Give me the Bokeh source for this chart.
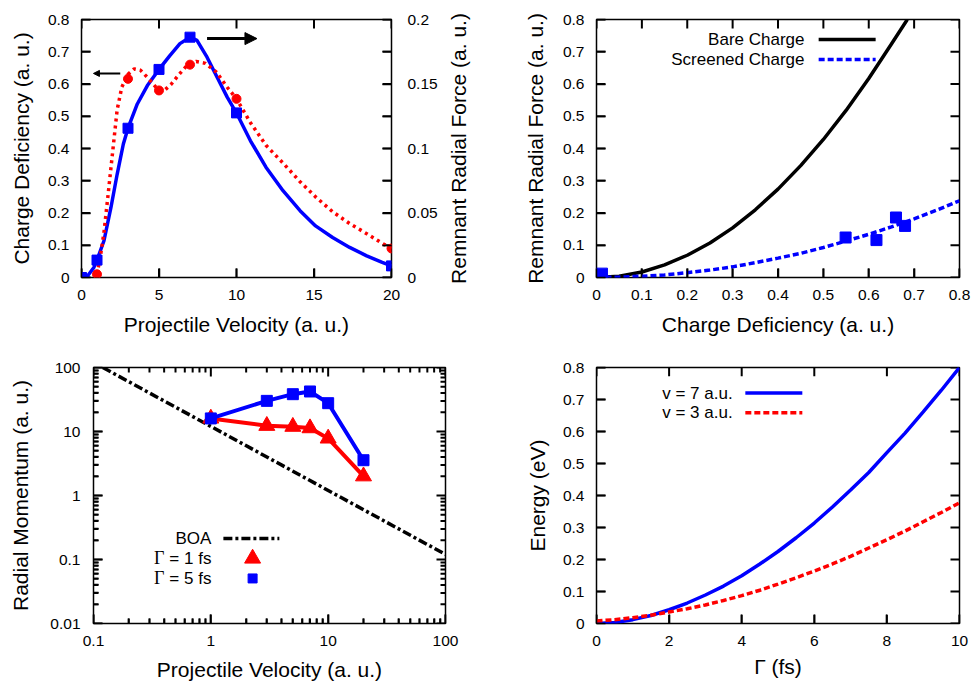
import math
from bokeh.plotting import figure
from bokeh.layouts import column, row
from bokeh.models import (LinearAxis, Range1d, FixedTicker, CustomJSTickFormatter,
                          Arrow, NormalHead, Label)
from bokeh.embed import file_html
from bokeh.resources import INLINE

# ---------------- data ----------------
# Panel 1: charge deficiency (left axis) and remnant radial force (right axis) vs velocity
vel_cd = [1, 3, 5, 7, 10, 20]
charge_def = [0.010, 0.616, 0.580, 0.660, 0.554, 0.090]
vel_rf = [0, 1, 3, 5, 7, 10, 20]
radial_force = [0.0, 0.0135, 0.1157, 0.1613, 0.1863, 0.1276, 0.009]
cd_curve_v = [1.0, 1.2, 1.45, 1.7, 1.9, 2.1, 2.3, 2.6, 3.0, 3.4, 3.8, 4.3, 4.8, 5.3, 5.8, 6.3,
              6.8, 7.4, 8.0, 8.7, 9.4, 10.0, 10.9, 11.9, 13.0, 14.1, 15.1, 16.2, 17.3, 18.4, 19.4, 20.0]
cd_curve = [0.01, 0.06, 0.14, 0.25, 0.34, 0.43, 0.52, 0.59, 0.63, 0.647, 0.643, 0.618, 0.59, 0.578,
            0.60, 0.63, 0.657, 0.67, 0.664, 0.637, 0.59, 0.554, 0.48, 0.41, 0.355, 0.297, 0.25,
            0.204, 0.167, 0.136, 0.106, 0.09]
rf_curve_v = [0, 0.4, 0.8, 1.0, 1.45, 1.9, 2.3, 2.7, 3.0, 3.6, 4.25, 5.0, 5.7, 6.35, 7.0, 7.45,
              8.1, 8.75, 9.4, 10.0, 10.9, 11.9, 13.0, 14.1, 15.1, 16.2, 17.3, 18.4, 19.4, 20.0]
rf_curve = [0, 0.0013, 0.0078, 0.0135, 0.0285, 0.0543, 0.08, 0.1035, 0.1157, 0.1345, 0.1488,
            0.1613, 0.172, 0.1813, 0.1863, 0.1838, 0.1708, 0.1553, 0.1398, 0.1275, 0.106, 0.0855,
            0.0673, 0.0518, 0.04, 0.031, 0.0233, 0.0168, 0.0118, 0.009]

# Panel 2: remnant radial force vs charge deficiency
cd_pts = [0.0, 0.012, 0.549, 0.617, 0.660, 0.680]
rf_pts = [0.002, 0.012, 0.124, 0.116, 0.186, 0.160]
bare_x = [0, 0.05, 0.1, 0.15, 0.2, 0.25, 0.3, 0.35, 0.4, 0.45, 0.5, 0.55, 0.6, 0.65, 0.685]
bare_y = [0, 0.004, 0.017, 0.039, 0.069, 0.107, 0.154, 0.21, 0.274, 0.347, 0.428, 0.518, 0.617, 0.724, 0.8]
scr_x = [0, 0.05, 0.1, 0.15, 0.2, 0.25, 0.3, 0.35, 0.4, 0.45, 0.5, 0.55, 0.6, 0.65, 0.7, 0.75, 0.8]
scr_y = [0, 0.001, 0.004, 0.008, 0.015, 0.023, 0.033, 0.046, 0.06, 0.075, 0.093, 0.113, 0.134,
         0.157, 0.182, 0.209, 0.238]

# Panel 3: radial momentum vs velocity (log-log)
vel_g = [1, 3, 5, 7, 10, 20]
mom_g1 = [16.0, 12.3, 11.9, 11.3, 7.8, 2.0]
mom_g5 = [16.0, 30.1, 38.3, 42.2, 27.7, 3.56]
boa_v = [0.12, 100]
boa_p = [100, 0.12]

# Panel 4: energy vs Gamma
gamma = [0, 0.5, 1, 1.5, 2, 2.5, 3, 3.5, 4, 4.5, 5, 5.5, 6, 6.5, 7, 7.5, 8, 8.5, 9, 9.5, 10]
energy_v7 = [0, 0.003, 0.012, 0.025, 0.043, 0.064, 0.089, 0.117, 0.149, 0.186, 0.225, 0.268,
             0.314, 0.364, 0.417, 0.472, 0.534, 0.595, 0.661, 0.729, 0.8]
energy_v3 = [0.008, 0.012, 0.018, 0.026, 0.036, 0.046, 0.058, 0.072, 0.087, 0.104, 0.123, 0.143,
             0.164, 0.186, 0.21, 0.236, 0.262, 0.289, 0.318, 0.347, 0.377]

# tick values
ticks_v = [0, 5, 10, 15, 20]
ticks_08 = [0, 0.1, 0.2, 0.3, 0.4, 0.5, 0.6, 0.7, 0.8]
ticks_rf = [0, 0.05, 0.1, 0.15, 0.2]
minor_rf = [0.025, 0.075, 0.125, 0.175]
ticks_logx = [0.1, 1, 10, 100]
ticks_logy = [0.01, 0.1, 1, 10, 100]
ticks_g = [0, 2, 4, 6, 8, 10]

# ---------------- style ----------------
FONT = "Liberation Sans"
SERIF = "Liberation Serif"
TICK_FS = "15.5px"
LABEL_FS = "21px"
LEG_FS = "17px"
RED = "#ff0000"
BLUE = "#0000ff"
TLEN = 9
TW = 2.0

FMT = "return String(Number(tick.toFixed(6)));"


def log_minors(lo_exp, hi_exp):
    return [m * 10.0 ** e for e in range(lo_exp, hi_exp) for m in range(2, 10)]


def style_axis(ax, ticks, label, standoff, label_standoff, minor=None, mlen=TLEN):
    ax.ticker = FixedTicker(ticks=ticks, minor_ticks=minor or [])
    ax.formatter = CustomJSTickFormatter(code=FMT)
    ax.major_tick_in = TLEN
    ax.major_tick_out = 0
    ax.minor_tick_in = mlen
    ax.minor_tick_out = 0
    ax.major_tick_line_color = "black"
    ax.minor_tick_line_color = "black"
    ax.major_tick_line_width = 1.5
    ax.minor_tick_line_width = 1.5
    ax.axis_line_color = None
    ax.major_label_text_font = FONT
    ax.major_label_text_font_size = TICK_FS
    ax.major_label_text_color = "black"
    ax.major_label_standoff = standoff
    if label:
        ax.axis_label = label
        ax.axis_label_text_font = FONT
        ax.axis_label_text_font_size = LABEL_FS
        ax.axis_label_text_font_style = "normal"
        ax.axis_label_text_color = "black"
        ax.axis_label_standoff = label_standoff


def frame_size(p):
    return (p.width - p.min_border_left - p.min_border_right,
            p.height - p.min_border_top - p.min_border_bottom)


def shift(v, d, log):
    return 10 ** (math.log10(v) + d) if log else v + d


def span(r, log):
    return (math.log10(r.end) - math.log10(r.start)) if log else (r.end - r.start)


def tick_marks(p, vals, side, length, xlog=False, ylog=False, rng=None, width=TW, **kw):
    """Inward tick marks drawn as thin filled bars starting at the frame edge."""
    fw, fh = frame_size(p)
    xr = p.x_range
    yr = rng or p.y_range
    if side in ("below", "above"):
        dlen = length / fh * span(yr, ylog)
        dw = 0.5 * width / fw * span(xr, xlog)
        edge = yr.start if side == "below" else yr.end
        inner = shift(edge, dlen if side == "below" else -dlen, ylog)
        p.quad(left=[shift(v, -dw, xlog) for v in vals], right=[shift(v, dw, xlog) for v in vals],
               bottom=[min(edge, inner)] * len(vals), top=[max(edge, inner)] * len(vals),
               fill_color="black", line_color=None, **kw)
    else:
        dlen = length / fw * span(xr, xlog)
        dw = 0.5 * width / fh * span(yr, ylog)
        edge = xr.start if side == "left" else xr.end
        inner = shift(edge, dlen if side == "left" else -dlen, xlog)
        p.quad(left=[min(edge, inner)] * len(vals), right=[max(edge, inner)] * len(vals),
               bottom=[shift(v, -dw, ylog) for v in vals], top=[shift(v, dw, ylog) for v in vals],
               fill_color="black", line_color=None, **kw)


def base(p):
    p.grid.visible = False
    p.outline_line_color = "black"
    p.outline_line_width = 1.5
    p.outline_line_alpha = 1.0
    p.background_fill_color = "white"
    p.border_fill_color = "white"


def lin(frac, lo, hi):
    return lo + frac * (hi - lo)


def logf(frac, lo, hi):
    return 10 ** (math.log10(lo) + frac * (math.log10(hi) - math.log10(lo)))


# ---------------- panel 1 ----------------
p1 = figure(width=440, height=340, x_range=(0, 20), y_range=(0, 0.8),
            output_backend="svg", toolbar_location=None,
            min_border_left=81, min_border_right=48, min_border_top=19, min_border_bottom=63)
base(p1)
p1.extra_y_ranges = {"force": Range1d(0, 0.2)}
style_axis(p1.xaxis[0], ticks_v, "Projectile Velocity (a. u.)", 12, 10)
style_axis(p1.yaxis[0], ticks_08, "Charge Deficiency (a. u.)", 12, 12)
rax = LinearAxis(y_range_name="force")
style_axis(rax, ticks_rf, None, 16, 0, minor=minor_rf)
p1.add_layout(rax, "right")
tick_marks(p1, ticks_v, "below", TLEN)
tick_marks(p1, ticks_v, "above", TLEN)
tick_marks(p1, ticks_08, "left", TLEN)
tick_marks(p1, ticks_rf + minor_rf, "right", TLEN, rng=p1.extra_y_ranges["force"],
           y_range_name="force")

p1.line(rf_curve_v, rf_curve, y_range_name="force", line_color=BLUE, line_width=3.5)
p1.line(cd_curve_v, cd_curve, line_color=RED, line_width=3.5, line_dash="3 4")
p1.scatter(vel_cd, charge_def, marker="circle", size=9, fill_color=RED, line_color=RED)
p1.scatter(vel_rf, radial_force, y_range_name="force", marker="square", size=10,
           fill_color=BLUE, line_color=BLUE)
p1.add_layout(Arrow(end=NormalHead(size=6, fill_color="black", line_color="black"),
                    x_start=lin(0.125, 0, 20), y_start=lin(0.791, 0, 0.8),
                    x_end=lin(0.0386, 0, 20), y_end=lin(0.791, 0, 0.8),
                    line_width=2, line_color="black"))
p1.add_layout(Arrow(end=NormalHead(size=12, fill_color="black", line_color="black"),
                    x_start=lin(0.405, 0, 20), y_start=lin(0.926, 0, 0.8),
                    x_end=lin(0.566, 0, 20), y_end=lin(0.926, 0, 0.8),
                    line_width=3, line_color="black"))

# right-hand axis title of panel 1 (reads bottom-to-top, like a left axis title)
p1r = figure(width=47, height=340, x_range=(0, 1), y_range=(0, 1),
             output_backend="svg", toolbar_location=None, x_axis_location=None,
             min_border_left=29, min_border_right=0, min_border_top=19, min_border_bottom=63)
p1r.grid.visible = False
p1r.outline_line_color = None
p1r.border_fill_color = "white"
p1r.background_fill_color = "white"
ya = p1r.yaxis[0]
ya.ticker = FixedTicker(ticks=[])
ya.major_tick_line_color = None
ya.minor_tick_line_color = None
ya.axis_line_color = None
ya.major_label_text_font_size = "0px"
ya.major_label_standoff = 0
ya.major_tick_out = 0
ya.major_tick_in = 0
ya.axis_label = "Remnant Radial Force (a. u.)"
ya.axis_label_text_font = FONT
ya.axis_label_text_font_size = LABEL_FS
ya.axis_label_text_font_style = "normal"
ya.axis_label_text_color = "black"
ya.axis_label_standoff = 0

# ---------------- panel 2 ----------------
p2 = figure(width=485, height=340, x_range=(0, 0.8), y_range=(0, 0.8),
            output_backend="svg", toolbar_location=None,
            min_border_left=109, min_border_right=13, min_border_top=19, min_border_bottom=63)
base(p2)
style_axis(p2.xaxis[0], ticks_08, "Charge Deficiency (a. u.)", 12, 10)
style_axis(p2.yaxis[0], ticks_08, "Remnant Radial Force (a. u.)", 12, 13)
for side in ("below", "above", "left", "right"):
    tick_marks(p2, ticks_08, side, TLEN)
p2.line(bare_x, bare_y, line_color="black", line_width=3.5)
p2.line(scr_x, scr_y, line_color=BLUE, line_width=3.5, line_dash="6 3")
p2.scatter(cd_pts, rf_pts, marker="square", size=11, fill_color=BLUE, line_color=BLUE)
for i, (name, col, dash) in enumerate([("Bare Charge", "black", "solid"),
                                        ("Screened Charge", BLUE, "6 3")]):
    yy = lin([0.922, 0.845][i], 0, 0.8)
    p2.add_layout(Label(x=lin(0.573, 0, 0.8), y=yy, text=name, text_font=FONT,
                        text_font_size=LEG_FS, text_align="right", text_baseline="middle",
                        text_color="black"))
    p2.add_layout(Arrow(start=None, end=None, x_start=lin(0.612, 0, 0.8), y_start=yy,
                        x_end=lin(0.769, 0, 0.8), y_end=yy, line_color=col, line_width=3.5,
                        line_dash=dash))

# ---------------- panel 3 ----------------
p3 = figure(width=487, height=346, x_axis_type="log", y_axis_type="log",
            x_range=(0.1, 100), y_range=(0.01, 100),
            output_backend="svg", toolbar_location=None,
            min_border_left=93, min_border_right=42, min_border_top=27, min_border_bottom=63)
base(p3)
style_axis(p3.xaxis[0], ticks_logx, "Projectile Velocity (a. u.)", 12, 9,
           minor=log_minors(-1, 2), mlen=5)
style_axis(p3.yaxis[0], ticks_logy, "Radial Momentum (a. u.)", 13, 15,
           minor=log_minors(-2, 2), mlen=5)
for side in ("below", "above"):
    tick_marks(p3, ticks_logx, side, TLEN, xlog=True, ylog=True)
    tick_marks(p3, log_minors(-1, 2), side, 5, xlog=True, ylog=True)
for side in ("left", "right"):
    tick_marks(p3, ticks_logy, side, TLEN, xlog=True, ylog=True)
    tick_marks(p3, log_minors(-2, 2), side, 5, xlog=True, ylog=True)
p3.line(boa_v, boa_p, line_color="black", line_width=3.5, line_dash="9 3 3 3")
p3.line(vel_g, mom_g1, line_color=RED, line_width=4)
p3.scatter(vel_g, mom_g1, marker="triangle", size=16, fill_color=RED, line_color=RED)
p3.line(vel_g, mom_g5, line_color=BLUE, line_width=4)
p3.scatter(vel_g, mom_g5, marker="square", size=11, fill_color=BLUE, line_color=BLUE)

lx = (0.1, 100)
ly = (0.01, 100)
rows3 = [logf(f, *ly) for f in (0.332, 0.254, 0.176)]
p3.add_layout(Label(x=logf(0.335, *lx), y=rows3[0], text="BOA", text_font=FONT,
                    text_font_size=LEG_FS, text_align="right", text_baseline="middle",
                    text_color="black"))
p3.add_layout(Arrow(start=None, end=None, x_start=logf(0.369, *lx), y_start=rows3[0],
                    x_end=logf(0.528, *lx), y_end=rows3[0], line_color="black", line_width=3.5,
                    line_dash="9 3 3 3"))
for yy, txt in ((rows3[1], "= 1 fs"), (rows3[2], "= 5 fs")):
    p3.add_layout(Label(x=logf(0.335, *lx), y=yy, text=txt, text_font=FONT,
                        text_font_size=LEG_FS, text_align="right", text_baseline="middle",
                        text_color="black"))
    p3.add_layout(Label(x=logf(0.2017, *lx), y=yy, text="Γ", text_font=SERIF,
                        text_font_size="18px", text_align="right", text_baseline="middle",
                        text_color="black"))
p3.scatter([logf(0.452, *lx)], [rows3[1]], marker="triangle", size=16, fill_color=RED, line_color=RED)
p3.scatter([logf(0.452, *lx)], [rows3[2]], marker="square", size=9, fill_color=BLUE, line_color=BLUE)

# ---------------- panel 4 ----------------
p4 = figure(width=485, height=346, x_range=(0, 10), y_range=(0, 0.8),
            output_backend="svg", toolbar_location=None,
            min_border_left=109, min_border_right=13, min_border_top=27, min_border_bottom=59)
base(p4)
style_axis(p4.xaxis[0], ticks_g, "Γ (fs)", 12, 6)
style_axis(p4.yaxis[0], ticks_08, "Energy (eV)", 12, 11)
tick_marks(p4, ticks_g, "below", TLEN)
tick_marks(p4, ticks_g, "above", TLEN)
tick_marks(p4, ticks_08, "left", TLEN)
tick_marks(p4, ticks_08, "right", TLEN)
p4.line(gamma, energy_v7, line_color=BLUE, line_width=3.5)
p4.line(gamma, energy_v3, line_color=RED, line_width=3.5, line_dash="6 3")
for i, (name, col, dash) in enumerate([("v = 7 a.u.", BLUE, "solid"), ("v = 3 a.u.", RED, "6 3")]):
    yy = lin([0.9, 0.823][i], 0, 0.8)
    p4.add_layout(Label(x=lin(0.375, 0, 10), y=yy, text=name, text_font=FONT,
                        text_font_size=LEG_FS, text_align="right", text_baseline="middle",
                        text_color="black"))
    p4.add_layout(Arrow(start=None, end=None, x_start=lin(0.41, 0, 10), y_start=yy,
                        x_end=lin(0.567, 0, 10), y_end=yy, line_color=col, line_width=3.5,
                        line_dash=dash))

layout = column(row(p1, p1r, p2, spacing=0), row(p3, p4, spacing=0), spacing=0)
open("out.html", "w").write(file_html(layout, INLINE))
